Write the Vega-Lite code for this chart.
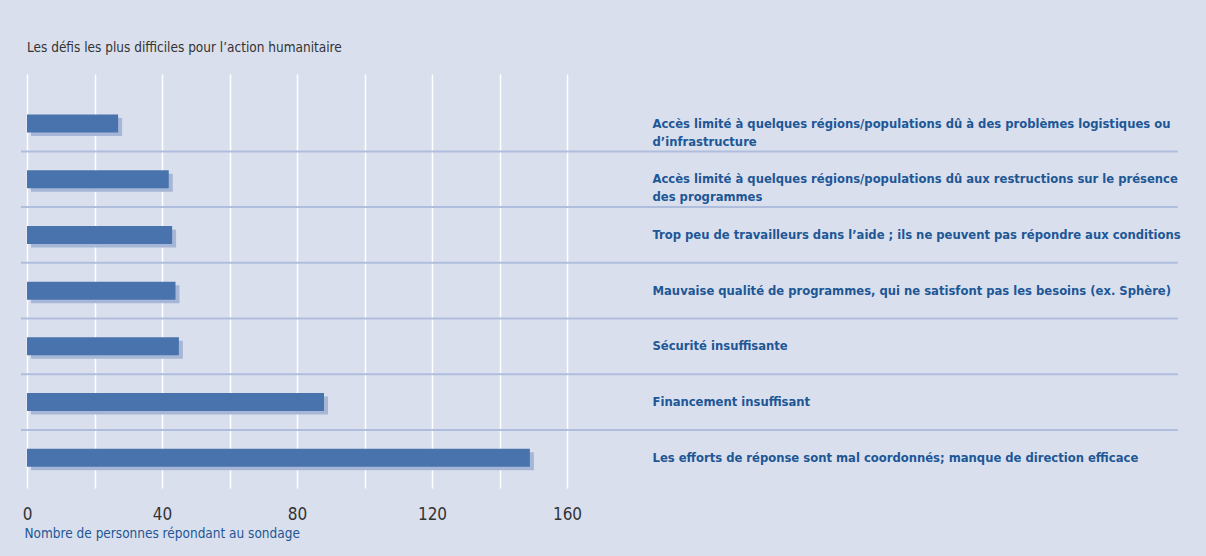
{
  "$schema": "https://vega.github.io/schema/vega-lite/v6.json",
  "width": 540,
  "height": 414,
  "autosize": {"type": "none"},
  "padding": {"left": 27, "top": 74, "right": 639, "bottom": 68},
  "background": "#dadfed",
  "config": {"view": {"stroke": null}, "font": "DejaVu Sans Condensed"},
  "title": {
    "text": "Les défis les plus difficiles pour l’action humanitaire",
    "anchor": "start",
    "frame": "group",
    "baseline": "alphabetic",
    "offset": 9,
    "fontSize": 13.5,
    "fontWeight": "normal",
    "color": "#333333",
    "font": "DejaVu Sans Condensed"
  },
  "data": {
    "values": [
      {"defi": "Accès limité à quelques régions/populations dû à des problèmes logistiques ou\nd’infrastructure", "valeur": 27},
      {"defi": "Accès limité à quelques régions/populations dû aux restructions sur le présence\ndes programmes", "valeur": 42},
      {"defi": "Trop peu de travailleurs dans l’aide ; ils ne peuvent pas répondre aux conditions", "valeur": 43},
      {"defi": "Mauvaise qualité de programmes, qui ne satisfont pas les besoins (ex. Sphère)", "valeur": 44},
      {"defi": "Sécurité insuffisante", "valeur": 45},
      {"defi": "Financement insuffisant", "valeur": 88},
      {"defi": "Les efforts de réponse sont mal coordonnés; manque de direction efficace", "valeur": 149}
    ]
  },
  "encoding": {
    "y": {
      "field": "defi",
      "type": "nominal",
      "sort": null,
      "scale": {"paddingInner": 0, "paddingOuter": 0.2165, "align": 0.9},
      "axis": {
        "orient": "right",
        "title": null,
        "domain": false,
        "ticks": false,
        "grid": false,
        "offset": 85,
        "labelPadding": 0,
        "labelAlign": "left",
        "labelBaseline": "middle",
        "labelLimit": 0,
        "labelExpr": "split(datum.label, '\\n')",
        "labelFont": "DejaVu Sans Condensed",
        "labelFontSize": 12.9,
        "labelFontWeight": "bold",
        "labelColor": "#1d5796",
        "labelLineHeight": 18
      }
    }
  },
  "layer": [
    {
      "transform": [{"filter": "datum.valeur != 149"}],
      "mark": {"type": "rule", "color": "#b0bede", "strokeWidth": 2},
      "encoding": {
        "y": {"field": "defi", "type": "nominal", "sort": null, "bandPosition": 1},
        "x": {"datum": -1.8, "scale": {"domain": [0, 160], "nice": false}},
        "x2": {"datum": 341}
      }
    },
    {
      "mark": {"type": "bar", "height": 18, "color": "#a6b6d6", "xOffset": 4, "x2Offset": 1.5, "yOffset": 3.5},
      "encoding": {
        "x": {"field": "valeur", "type": "quantitative", "scale": {"domain": [0, 160], "nice": false}}
      }
    },
    {
      "mark": {"type": "bar", "height": 18, "color": "#4873ad"},
      "encoding": {
        "x": {
          "field": "valeur",
          "type": "quantitative",
          "scale": {"domain": [0, 160], "nice": false},
          "axis": {
            "values": [0, 20, 40, 60, 80, 100, 120, 140, 160],
            "labelExpr": "datum.value % 40 === 0 ? datum.label : ''",
            "grid": true,
            "gridColor": "#ffffff",
            "gridWidth": 1.5,
            "gridOpacity": 1,
            "domain": false,
            "ticks": false,
            "labelFlush": false,
            "labelOverlap": false,
            "labelPadding": 18,
            "labelFontSize": 17,
            "labelColor": "#333333",
            "labelFont": "DejaVu Sans Condensed",
            "title": "Nombre de personnes répondant au sondage",
            "titleFont": "DejaVu Sans Condensed",
            "titleAnchor": "start",
            "titleAlign": "left",
            "titleX": -3,
            "titleColor": "#1d5796",
            "titleFontWeight": "normal",
            "titleFontSize": 13.5,
            "titlePadding": 4
          }
        }
      }
    }
  ]
}
